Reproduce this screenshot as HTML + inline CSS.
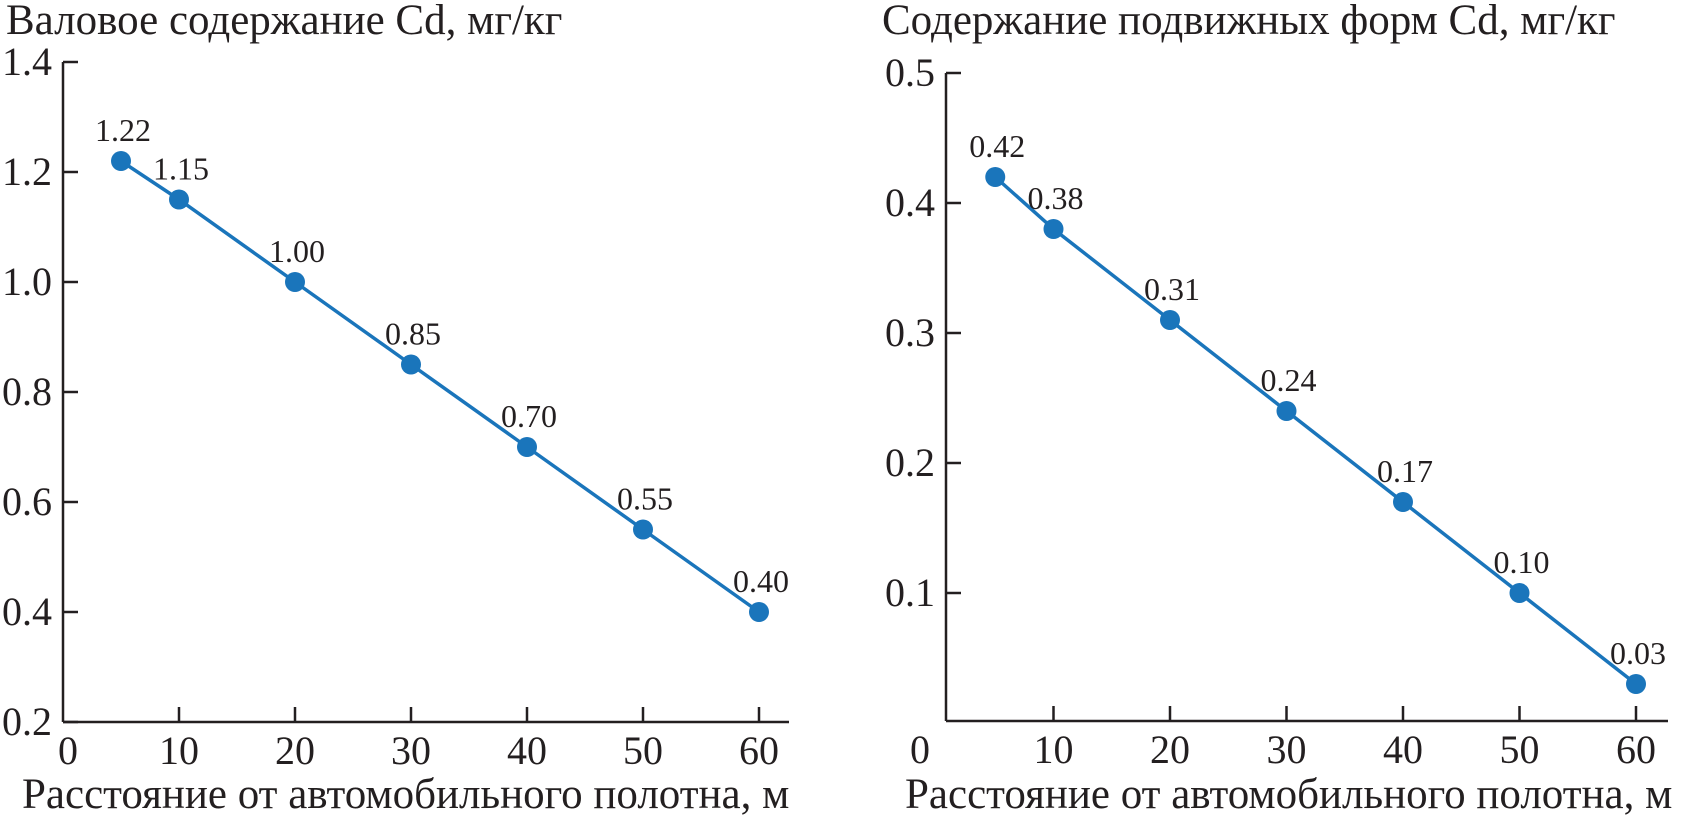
<!DOCTYPE html>
<html><head><meta charset="utf-8">
<style>
html,body{margin:0;padding:0;background:#fff;}
svg{display:block;font-family:"Liberation Serif","DejaVu Serif",serif;}
</style></head>
<body>
<svg id="chart" width="1682" height="822" viewBox="0 0 1682 822"></svg>
<script>
const distances = [5, 10, 20, 30, 40, 50, 60];
const totalCd = [1.22, 1.15, 1.00, 0.85, 0.70, 0.55, 0.40];
const totalLabels = ["1.22","1.15","1.00","0.85","0.70","0.55","0.40"];
const mobileCd = [0.42, 0.38, 0.31, 0.24, 0.17, 0.10, 0.03];
const mobileLabels = ["0.42","0.38","0.31","0.24","0.17","0.10","0.03"];
const xTicks = [0, 10, 20, 30, 40, 50, 60];
const leftYTicks = [0.2, 0.4, 0.6, 0.8, 1.0, 1.2, 1.4];
const leftYTickLabels = ["0.2","0.4","0.6","0.8","1.0","1.2","1.4"];
const rightYTicks = [0.1, 0.2, 0.3, 0.4, 0.5];
const rightYTickLabels = ["0.1","0.2","0.3","0.4","0.5"];

const NS = "http://www.w3.org/2000/svg";
const svg = document.getElementById("chart");
function mk(tag, attrs, parent) {
  const e = document.createElementNS(NS, tag);
  for (const k in attrs) e.setAttribute(k, attrs[k]);
  (parent || svg).appendChild(e);
  return e;
}
const INK = "#231f20", BLUE = "#1a75bb";

function panel(cfg) {
  const g = mk("g", {});
  
  
  const xs = v => cfg.x0 + v * cfg.xPer;
  const ys = v => cfg.yBottom - (v - cfg.yMin) / (cfg.yMax - cfg.yMin) * (cfg.yBottom - cfg.yTop);
  const ya = mk("line", {x1: cfg.axisX, y1: cfg.yTop, x2: cfg.axisX, y2: cfg.axisY, stroke: INK, "stroke-width": 2.5}, g);
  
  
  const xa = mk("line", {x1: cfg.axisX, y1: cfg.axisY, x2: cfg.axisEnd, y2: cfg.axisY, stroke: INK, "stroke-width": 2.5}, g);
  
  
  cfg.yTicks.forEach((v, i) => {
    const y = ys(v);
    const t = mk("line", {x1: cfg.axisX, y1: y, x2: cfg.axisX + 15, y2: y, stroke: INK, "stroke-width": 2.5}, g);
    
    
    const l = mk("text", {x: cfg.axisX - 11, y: y + 13, "text-anchor": "end", "font-size": 40, fill: INK}, g);
    l.textContent = cfg.yTickLabels[i];
    
    
  });
  xTicks.forEach(v => {
    const x = xs(v);
    if (v !== 0) {
      const t = mk("line", {x1: x, y1: cfg.axisY, x2: x, y2: cfg.axisY - 15, stroke: INK, "stroke-width": 2.5}, g);
      
      
    }
    const l = mk("text", {x: v === 0 ? cfg.zeroLabelX : x, y: cfg.axisY + 42, "text-anchor": "middle", "font-size": 40, fill: INK}, g);
    l.textContent = String(v);
    
    
  });
  const pts = distances.map((d, i) => xs(d) + "," + ys(cfg.values[i])).join(" ");
  const pl = mk("polyline", {points: pts, fill: "none", stroke: BLUE, "stroke-width": 3.5}, g);
  
  
  distances.forEach((d, i) => {
    const cx = xs(d), cy = ys(cfg.values[i]);
    const c = mk("circle", {cx: cx, cy: cy, r: 10, fill: BLUE}, g);
    
    
    const l = mk("text", {x: cx + 2, y: cy - 20, "text-anchor": "middle", "font-size": 32, fill: INK}, g);
    l.textContent = cfg.labels[i];
    
    
  });
  const title = mk("text", {x: cfg.titleX, y: 34, "font-size": 43, fill: INK}, g);
  title.textContent = cfg.title;
  
  
  const xt = mk("text", {x: cfg.xTitleX, y: 808, "font-size": 43, fill: INK}, g);
  xt.textContent = "Расстояние от автомобильного полотна, м";
  
  
}

panel({name: "total-cd-chart", x0: 63, xPer: 11.6, axisX: 63, axisY: 722, axisEnd: 789,
  yMin: 0.2, yMax: 1.4, yTop: 62, yBottom: 722, yTicks: leftYTicks, yTickLabels: leftYTickLabels,
  values: totalCd, labels: totalLabels, zeroLabelX: 68,
  title: "Валовое содержание Cd, мг/кг", titleX: 6, xTitleX: 22});

panel({name: "mobile-cd-chart", x0: 937, xPer: 11.65, axisX: 946, axisY: 721, axisEnd: 1668,
  yMin: 0, yMax: 0.5, yTop: 73, yBottom: 723, yTicks: rightYTicks, yTickLabels: rightYTickLabels,
  values: mobileCd, labels: mobileLabels, zeroLabelX: 920,
  title: "Содержание подвижных форм Cd, мг/кг", titleX: 882, xTitleX: 905});
</script>
</body></html>
